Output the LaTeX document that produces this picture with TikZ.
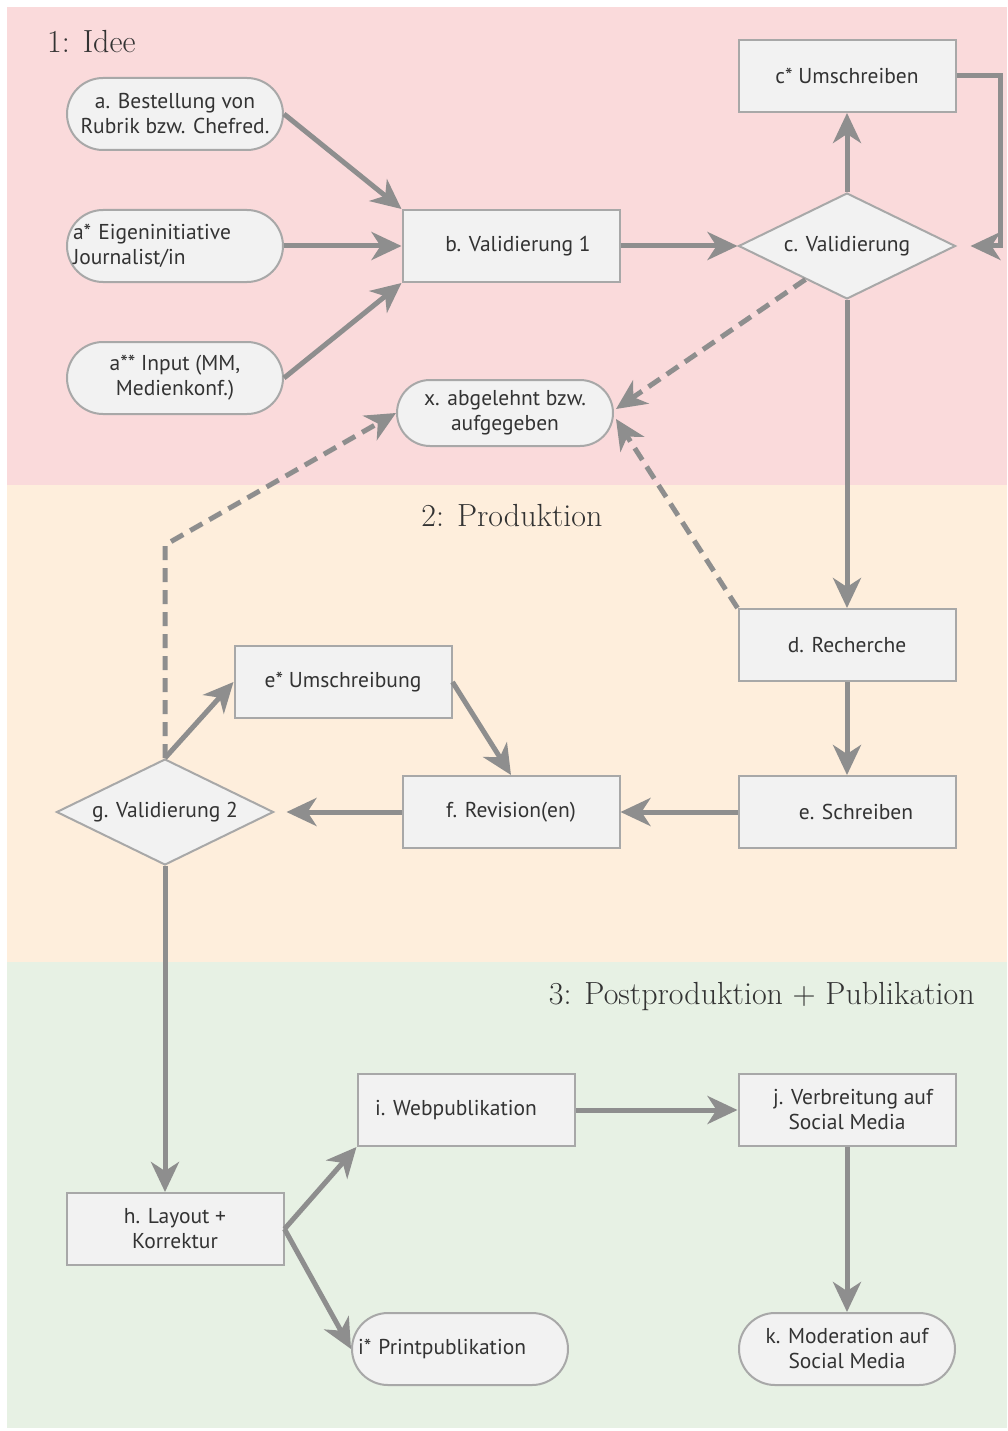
\documentclass[tikz,border=0pt]{standalone}
\usepackage{fontspec}
\setsansfont{PT Sans}
\usetikzlibrary{arrows.meta,shapes.geometric,calc}
\definecolor{bgpink}{HTML}{FADADB}
\definecolor{bgorange}{HTML}{FEEEDC}
\definecolor{bggreen}{HTML}{E7F1E4}
\definecolor{nodefill}{HTML}{F2F2F2}
\definecolor{nodeline}{HTML}{A8A8A8}
\definecolor{arrowgray}{HTML}{8E8E8E}
\tikzset{
  base/.style={draw=nodeline, fill=nodefill, line width=2pt, font=\sffamily\fontsize{21.5}{25}\selectfont, text=black!80, align=center, inner sep=0pt},
  boxnode/.style={base, rectangle, minimum width=217pt, minimum height=72pt},
  pill/.style={base, rectangle, rounded corners=36pt, minimum width=216pt, minimum height=72pt},
  decision/.style={base, diamond, minimum width=217pt, minimum height=106pt, shape aspect=2.05},
  arr/.style={draw=arrowgray, line width=5pt, -{Stealth[length=30pt,width=28pt,inset=9pt]}},
  dasharr/.style={arr, dash pattern=on 14pt off 8pt},
  title/.style={font=\fontsize{32}{38}\selectfont, text=black!80, inner sep=0pt}
}
\begin{document}
\begin{tikzpicture}[x=1pt,y=-1pt]
\useasboundingbox (0,0) rectangle (1007,1431);
\fill[white] (0,0) rectangle (1007,1431);
\fill[bgpink] (7,7) rectangle (1007,485);
\fill[bgorange] (7,485) rectangle (1007,962);
\fill[bggreen] (7,962) rectangle (1007,1428);

\node[title, anchor=west] (t1) at (47,42) {1: Idee};
\node[title] (t2) at (512,516) {2: Produktion};
\node[title, anchor=east] (t3) at (975,997) {3: Postproduktion + Publikation};

\node[pill] (a) at (175,114) {a. Bestellung von\\Rubrik bzw. Chefred.};
\node[pill, align=left, text width=204pt] (as) at (175,246) {a* Eigeninitiative\\Journalist/in};
\node[pill] (ass) at (175,378) {a** Input (MM,\\Medienkonf.)};
\node[boxnode] (b) at (511,246) {\hspace*{14pt}b. Validierung 1};
\node[boxnode] (cs) at (847,76) {c* Umschreiben};
\node[decision] (c) at (847,246) {c. Validierung};
\node[pill, minimum height=66pt, rounded corners=33pt] (x) at (505,413) {x. abgelehnt bzw.\\aufgegeben};
\node[boxnode] (d) at (847,645) {d. Recherche};
\node[boxnode] (es) at (343,682) {e* Umschreibung};
\node[boxnode] (e) at (847,812) {\hspace*{18pt}e. Schreiben};
\node[boxnode] (f) at (511,812) {f. Revision(en)};
\node[decision] (g) at (165,812) {g. Validierung 2};
\node[boxnode] (h) at (175,1229) {h. Layout +\\Korrektur};
\node[boxnode] (i) at (466,1110) {i. Webpublikation\hspace*{20pt}};
\node[boxnode] (j) at (847,1110) {\hspace*{12pt}j. Verbreitung auf\\Social Media};
\node[pill, align=left, text width=204pt] (is) at (460,1349) {i* Printpublikation};
\node[pill] (k) at (847,1349) {k. Moderation auf\\Social Media};

\coordinate (loopA) at (1000,76);
\coordinate (gbend) at (165,545);
\coordinate (xin1) at ($(x.east)+(2,-4)$);
\coordinate (xin2) at ($(x.east)+(2,6)$);
\coordinate (cout) at ($(c.west)!0.62!(c.south)$);
\coordinate (hin) at (g.south |- h.north);

\draw[arr] (a.east) -- (b.north west);
\draw[arr] (as.east) -- (b.west);
\draw[arr] (ass.east) -- (b.south west);
\draw[arr] (b.east) -- (c.west);
\draw[arr] (c.north) -- (cs.south);
\draw[arr, shorten >=14pt] (cs.east) -- (loopA) |- (c.east);
\draw[arr] (c.south) -- (d.north);
\draw[dasharr] (cout) -- (xin1);
\draw[dasharr] (d.north west) -- (xin2);
\draw[dasharr] (g.north) -- (gbend) -- (x.west);
\draw[arr] (g.north) -- (es.west);
\draw[arr] (es.east) -- (f.north);
\draw[arr] (d.south) -- (e.north);
\draw[arr] (e.west) -- (f.east);
\draw[arr, shorten >=12pt] (f.west) -- (g.east);
\draw[arr] (g.south) -- (hin);
\draw[arr] (h.east) -- (i.south west);
\draw[arr] (h.east) -- (is.west);
\draw[arr] (i.east) -- (j.west);
\draw[arr] (j.south) -- (k.north);
\end{tikzpicture}
\end{document}
